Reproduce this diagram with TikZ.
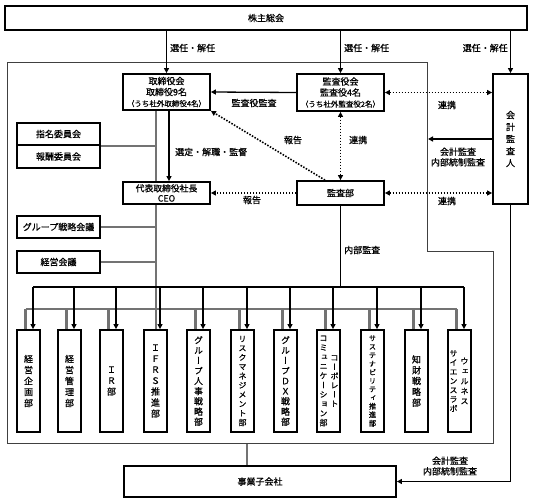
\documentclass[tikz,border=0pt]{standalone}
\usepackage{fontspec}
\setmainfont{Noto Sans CJK JP}[FakeBold=0.7]
\newfontfamily\vfont[RawFeature=+vert,FakeBold=0.7]{Noto Sans CJK JP}
\usetikzlibrary{arrows.meta}
\pgfdeclarelayer{bg}
\pgfsetlayers{bg,main}
\begin{document}
\begin{tikzpicture}[x=1pt,y=-1pt,
  every node/.style={inner sep=0pt},
  box/.style={draw, fill=white, line width=1.8pt, align=center, font=\fontsize{9}{11}\selectfont},
  dept/.style={draw, fill=white, line width=1.8pt, minimum width=23pt, minimum height=102pt},
  vt/.style={align=center, font=\vfont\fontsize{9}{11}\selectfont},
  lbl/.style={align=center, font=\fontsize{9}{10.5}\selectfont},
  tip/.tip={Triangle[length=5pt,width=5pt]},
  arr/.style={line width=1.3pt, -tip},
  dots/.style={line width=1.6pt, dash pattern=on 1.5pt off 1.5pt},
  dota/.style={dots, -tip},
  dotb/.style={dots, tip-tip},
  grayline/.style={line width=2.2pt, draw=black!55},
  framel/.style={line width=0.7pt, draw=black!75}
]
\useasboundingbox (0,0) rectangle (533,501);

% frame
\draw[framel] (7,62) -- (427,62) -- (427,251) -- (493,251) -- (493,443) -- (7,443) -- cycle;

% boxes
\node[box, minimum width=522pt, minimum height=24pt] (sh) at (266,18) {株主総会};
\node[box, minimum width=87pt, minimum height=36pt] (bod) at (166.5,92) {取締役会\\取締役9名\\{\fontsize{7.5}{9}\selectfont（うち社外取締役4名）}};
\node[box, minimum width=87pt, minimum height=37pt] (kan) at (340.5,92.5) {監査役会\\監査役4名\\{\fontsize{7.5}{9}\selectfont（うち社外監査役2名）}};
\node[box, minimum width=87pt, minimum height=22pt, font=\fontsize{8.8}{10}\selectfont] (ceo) at (166.5,193) {代表取締役社長\\CEO};
\node[box, minimum width=87pt, minimum height=24pt] (aud) at (340.5,193) {監査部};
\node[box, minimum width=35pt, minimum height=130pt, font=\fontsize{9}{12}\selectfont] (acc) at (510.5,139) {会\\計\\監\\査\\人};
\node[box, minimum width=83pt, minimum height=22.5pt] (nom) at (58.5,134) {指名委員会};
\node[box, minimum width=83pt, minimum height=22.5pt] (rem) at (58.5,156.5) {報酬委員会};
\node[box, minimum width=83pt, minimum height=22pt] (gsc) at (58.5,227) {グループ戦略会議};
\node[box, minimum width=83pt, minimum height=22pt] (mgm) at (58.5,262) {経営会議};
\node[box, minimum width=272pt, minimum height=31pt] (sub) at (260,481.5) {事業子会社};

% departments
\foreach \i/\c in {1/28.5,2/69.5,3/111.5,4/155.5,5/198.5,6/242.5,7/285.5,8/328.5,9/372.5,10/416.5,11/459.5}{
  \node[dept] (d\i) at (\c,381) {};
}
\node[vt] (t1) at (d1) {経\\営\\企\\画\\部};
\node[vt] (t2) at (d2) {経\\営\\管\\理\\部};
\node[vt] (t3) at (d3) {Ｉ\\Ｒ\\部};
\node[vt] (t4) at (d4) {Ｉ\\Ｆ\\Ｒ\\Ｓ\\推\\進\\部};
\node[vt, font=\vfont\fontsize{8.8}{10.2}\selectfont] (t5) at (d5) {グ\\ル\\ー\\プ\\人\\事\\戦\\略\\部};
\node[vt, font=\vfont\fontsize{8}{9.3}\selectfont] (t6) at (d6) {リ\\ス\\ク\\マ\\ネ\\ジ\\メ\\ン\\ト\\部};
\node[vt, font=\vfont\fontsize{8.8}{10.2}\selectfont] (t7) at (d7) {グ\\ル\\ー\\プ\\Ｄ\\Ｘ\\戦\\略\\部};
\node[vt, font=\vfont\fontsize{8}{9.4}\selectfont] (t8a) at ([xshift=-5pt]d8.center) {コ\\ミ\\ュ\\ニ\\ケ\\ー\\シ\\ョ\\ン\\部};
\node[vt, font=\vfont\fontsize{8}{9.2}\selectfont] (t8b) at ([xshift=6pt]d8.center) {コ\\ー\\ポ\\レ\\ー\\ト};
\node[vt, font=\vfont\fontsize{7.2}{8.5}\selectfont] (t9) at (d9) {サ\\ス\\テ\\ナ\\ビ\\リ\\テ\\ィ\\推\\進\\部};
\node[vt, font=\vfont\fontsize{9}{10.8}\selectfont] (t10) at (d10) {知\\財\\戦\\略\\部};
\node[vt, font=\vfont\fontsize{8}{9.2}\selectfont] (t11a) at ([xshift=-6pt]d11.center) {サ\\イ\\エ\\ン\\ス\\ラ\\ボ};
\node[vt, font=\vfont\fontsize{8}{10}\selectfont] (t11b) at ([xshift=5pt]d11.center) {ウ\\ェ\\ル\\ネ\\ス};

% gray management lines
\begin{pgfonlayer}{bg}
\coordinate (gtop) at (156,110);
\draw[grayline] (gtop) -- (gtop |- d4.north);
\draw[grayline] (nom.south east) -- (nom.south east -| gtop);
\draw[grayline] (gsc.east) -- (gsc.east -| gtop);
\draw[grayline] (mgm.east) -- (mgm.east -| gtop);
\coordinate (gb1) at (25.5,309);
\coordinate (gb2) at (456.5,309);
\draw[grayline] (gb1) -- (gb2);
\foreach \i in {1,2,3,5,6,7,8,9,10,11}{
  \draw[grayline] ([xshift=-3pt]d\i.north |- gb1) -- ([xshift=-3pt]d\i.north);
}
\coordinate (fb) at (247,443);
\draw[grayline] (fb) -- (fb |- sub.north);
\end{pgfonlayer}

% shareholders
\draw[arr] (bod.north |- sh.south) -- (bod.north);
\draw[arr] (kan.north |- sh.south) -- (kan.north);
\draw[arr] (acc.north |- sh.south) -- (acc.north);
\node[lbl, anchor=west] (l1) at (170,48) {選任・解任};
\node[lbl, anchor=west] (l2) at (344,48) {選任・解任};
\node[lbl, anchor=east] (l3) at (508,48) {選任・解任};

% audit board
\draw[arr] (kan.west) -- (bod.east);
\node[lbl] (l4) at (254,103) {監査役監査};
\draw[dotb] (kan.east) -- (kan.east -| acc.west);
\node[lbl] (l5) at (447,105) {連携};
\draw[dotb] (kan.south) -- (aud.north);
\node[lbl, anchor=west] (l6) at (349,140) {連携};

% audit dept
\draw[dota] ([xshift=-15.5pt]aud.north) -- (bod.south east);
\node[lbl] (l7) at (293,140) {報告};
\draw[dota] (aud.west) -- (ceo.east);
\node[lbl] (l8) at (252,200) {報告};
\draw[dotb] (aud.east) -- (aud.east -| acc.west);
\node[lbl] (l9) at (447,201) {連携};

% board to CEO
\draw[arr] ([xshift=2.5pt]bod.south) -- ([xshift=2.5pt]ceo.north);
\node[lbl, anchor=west] (l10) at (175,152) {選定・解職・監督};

% accounting auditor
\coordinate (frm) at (428,139);
\draw[arr] (acc.west) -- (frm);
\node[lbl] (l11) at (458,157) {会計監査\\内部統制監査};
\draw[arr] (acc.south) |- (sub.east);
\node[lbl] (l12) at (450,466) {会計監査\\内部統制監査};

% internal audit
\coordinate (bb1) at (33,287);
\coordinate (bb2) at (464,287);
\draw[line width=1.3pt] (aud.south) -- (aud.south |- bb1);
\draw[line width=1.3pt] (bb1) -- (bb2);
\node[lbl, anchor=west] (l13) at (344,250) {内部監査};
\foreach \i in {1,...,11}{
  \draw[arr] ([xshift=4.5pt]d\i.north |- bb1) -- ([xshift=4.5pt]d\i.north);
}
\end{tikzpicture}
\end{document}
